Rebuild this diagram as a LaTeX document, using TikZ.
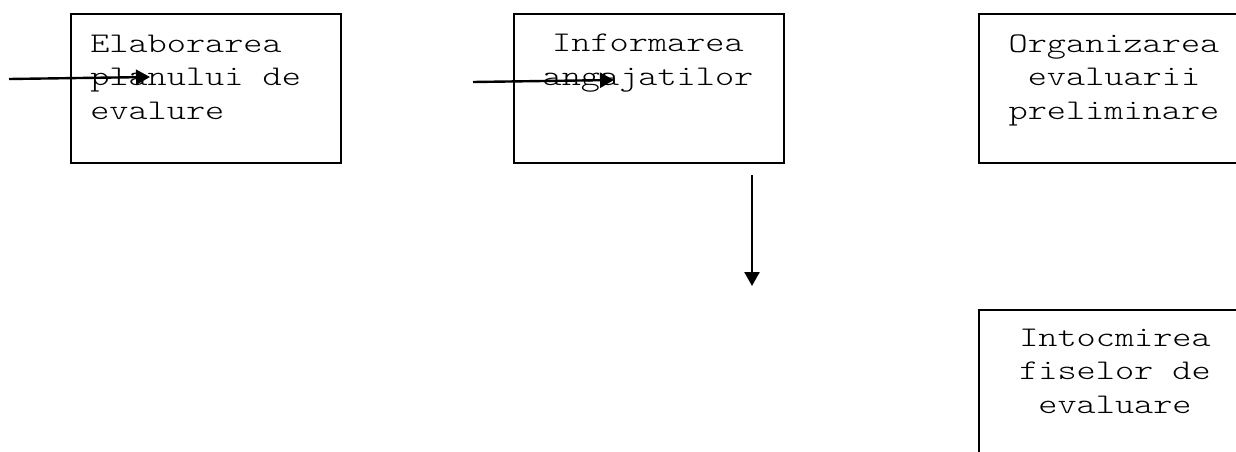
\documentclass[tikz,border=0pt]{standalone}
\usetikzlibrary{arrows.meta}
\tikzset{
  stagebox/.style={draw, line width=2pt, inner sep=0pt, anchor=north west},
  stagetext/.style={font=\fontseries{l}\ttfamily\fontsize{28.5}{33.5}\selectfont, inner sep=0pt, xscale=1.28},
  flow/.style={line width=2.4pt, -{Triangle[length=14pt,width=15pt]}}
}
\begin{document}
\begin{tikzpicture}[x=1pt,y=-1pt]
\useasboundingbox (0,0) rectangle (1236,452);
% stage boxes
\node[stagebox, minimum width=270pt, minimum height=149pt] (b1) at (70,13) {};
\node[stagebox, minimum width=270pt, minimum height=149pt] (b2) at (513,13) {};
\node[stagebox, minimum width=272pt, minimum height=149pt] (b3) at (978,13) {};
\node[stagebox, minimum width=272pt, minimum height=149pt] (b4) at (978,309) {};
% labels (anchored at the baseline of their last line)
\node[stagetext, align=left, anchor=base west] (t1) at (90,119) {Elaborarea\\planului de\\evalure};
\node[stagetext, align=center, anchor=base] (t2) at (648,85) {Informarea\\angajatilor};
\node[stagetext, align=center, anchor=base] (t3) at (1114,119) {Organizarea\\evaluarii\\preliminare};
\node[stagetext, align=center, anchor=base] (t4) at (1115,413) {Intocmirea\\fiselor de\\evaluare};
% connectors
\coordinate (a1s) at (9,79);
\coordinate (a1e) at (150,77);
\coordinate (a2s) at (473,82);
\coordinate (a2e) at (614,80);
\coordinate (a3s) at (752,175);
\coordinate (a3e) at (752,286);
\draw[flow] (a1s) -- (a1e);
\draw[flow] (a2s) -- (a2e);
\draw[flow] (a3s) -- (a3e);
\end{tikzpicture}
\end{document}
